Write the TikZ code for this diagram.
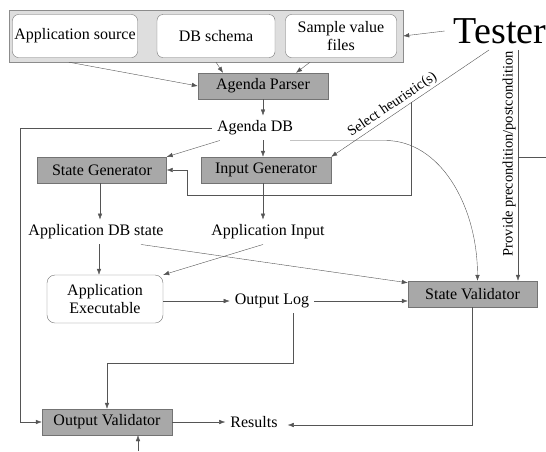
\documentclass[tikz,border=0pt]{standalone}
\usepackage{fontspec}
\setmainfont{Liberation Serif}
\definecolor{procgray}{RGB}{168,168,168}
\definecolor{framegray}{RGB}{222,222,222}
\definecolor{linegray}{RGB}{85,85,85}
\usetikzlibrary{calc}
\usetikzlibrary{positioning}
\usetikzlibrary{arrows.meta}

\tikzset{
  proc/.style={draw=black!55, fill=procgray, minimum width=130pt, minimum height=26pt, inner sep=0pt},
  infile/.style={draw=black!55, fill=white, rounded corners=6pt, minimum height=43pt, inner sep=1pt, align=center},
  plain/.style={inner sep=5pt},
  wire/.style={draw=linegray},
  edgelabel/.style={font=\fontsize{14.5}{15}\selectfont, inner sep=2pt},
}

\begin{document}
\begin{tikzpicture}[x=1pt, y=-1pt, font=\fontsize{16}{18}\selectfont, >={Latex[length=6pt,width=4.5pt]}]
  \useasboundingbox (0,0) rectangle (546,451);

  % inputs given to the parser
  \node [draw=black!45, fill=framegray, minimum width=394pt, minimum height=52pt] (inputs) at (206,36) {};
  \node [infile, minimum width=125pt] (appsrc) at (75,36) {Application source};
  \node [infile, minimum width=118pt] (schema) at (216,36) {DB schema};
  \node [infile, minimum width=111pt] (samples) at (341,36) {Sample value\\files};
  \node [font=\fontsize{38}{40}\selectfont, inner sep=0pt] (tester) at (500,31) {Tester};

  \node [proc] (parser) at (263,86) {Agenda Parser};
  \node [plain] (agendadb) at (255,128) {Agenda DB};
  \node [proc, minimum width=129pt] (stategen) at (102,170) {State Generator};
  \node [proc] (inputgen) at (266,170) {Input Generator};
  \node [plain] (dbstate) at (96,232) {Application DB state};
  \node [plain] (appinput) at (268,232) {Application Input};
  \node [infile, minimum width=116pt, minimum height=48pt, rounded corners=8pt] (exec) at (105,299) {Application\\Executable};
  \node [plain] (outlog) at (272,301) {Output Log};
  \node [proc, minimum width=129pt] (stateval) at (472.5,294) {State Validator};
  \node [proc] (outval) at (107,422) {Output Validator};
  \node [plain] (results) at (254,422) {Results};

  \coordinate (testfoot) at (489,50);
  \coordinate (selfork) at ($(testfoot)!0.49!(inputgen.north east)$);
  \coordinate (prefoot) at (518,50);
  \coordinate (preout) at (546,157);
  \coordinate (ovin) at (138,451);

  \draw [wire, ->] ([xshift=-9pt]tester.west) -- (inputs.east);
  \draw [wire, ->] ([xshift=-6pt]appsrc.south |- inputs.south) -- (parser.west);
  \draw [wire, ->] (schema.south |- inputs.south) -- ([xshift=-40pt]parser.north);
  \draw [wire, ->] ([xshift=-31pt]samples.south |- inputs.south) -- ([xshift=33pt]parser.north);

  \draw [wire, ->] (parser.south) -- (parser.south |- agendadb.north);
  \draw [wire, ->] (agendadb.west) -| ([xshift=-22pt]outval.west) -- (outval.west);
  \draw [wire, ->] ([xshift=8pt]agendadb.south west) -- (stategen.north east);
  \draw [wire, ->] (agendadb.south -| parser) -- (inputgen.north -| parser);
  \draw [wire, ->] ([xshift=-8pt]agendadb.south east) -- ++(95,0) .. controls +(55,0) and +(0,-75) .. ([xshift=5pt]stateval.north);

  % tester choices
  \draw [wire, ->] (testfoot) -- node [edgelabel, sloped, above, pos=0.58] {Select heuristic(s)} (inputgen.north east);
  \draw [wire, ->] (selfork) |- ([xshift=20pt, yshift=-25pt]stategen.east) |- (stategen.east);
  \draw [wire, ->] (prefoot) -- node [edgelabel, rotate=90, anchor=south, pos=0.45] {Provide precondition/postcondition} (prefoot |- stateval.north);
  \draw [wire] (preout -| prefoot) -- (preout);

  \draw [wire, ->] ([xshift=-2pt]stategen.south) -- ([xshift=-2pt]stategen.south |- dbstate.north);
  \draw [wire, ->] ([xshift=-3pt]inputgen.south) -- ([xshift=-3pt]inputgen.south |- appinput.north);
  \draw [wire, ->] ([xshift=3pt]dbstate.south) -- ([xshift=3pt]dbstate.south |- exec.north);
  \draw [wire, ->] ([xshift=-5pt]appinput.south) -- (exec.north east);
  \draw [wire, ->] ([xshift=45pt]dbstate.south) -- ([yshift=-2pt]stateval.north west);
  \draw [wire, ->] (outlog.west -| exec.east) -- (outlog.west);
  \draw [wire, ->] (outlog.east) -- (outlog.east -| stateval.west);

  \draw [wire, ->] ([xshift=21pt]outlog.south) -- ++(0,50) -| (outval.north);
  \draw [wire, ->] (outval.east) -- (results.west);
  \draw [wire, ->] (stateval.south) |- ([xshift=5pt, yshift=-3pt]results.east);
  \draw [wire, ->] (ovin) -- (ovin |- outval.south);
\end{tikzpicture}
\end{document}
